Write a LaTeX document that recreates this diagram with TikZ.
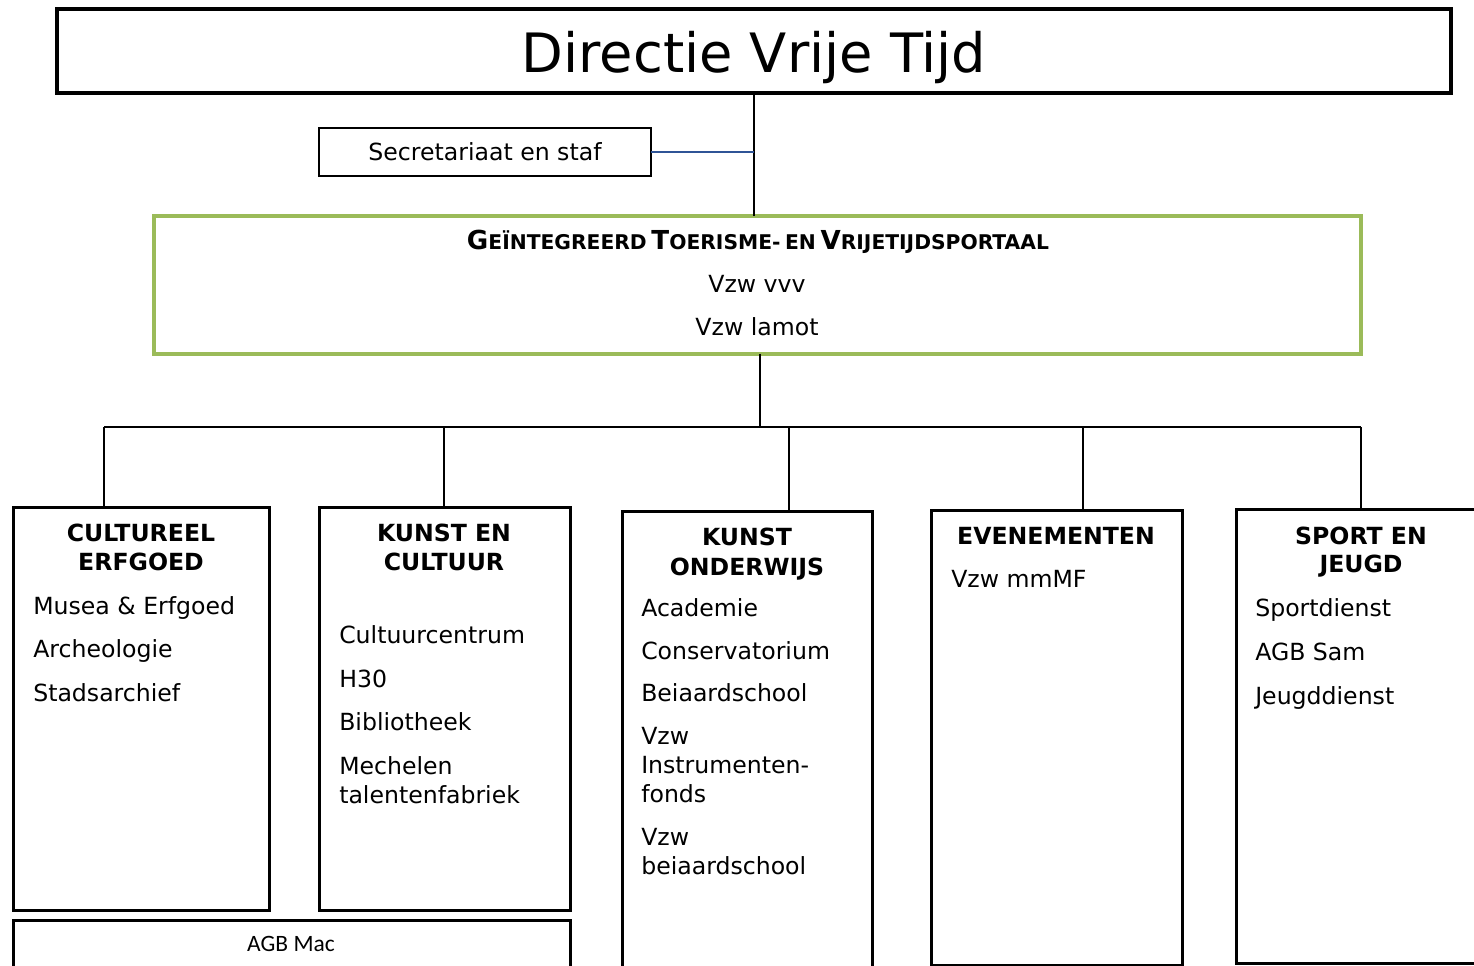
\documentclass[tikz,border=0pt]{standalone}
\usepackage{fontspec}
\setmainfont{DejaVu Sans}
\newfontfamily\calibrifont{Carlito}
\usetikzlibrary{positioning}
\definecolor{portaalgreen}{RGB}{155,187,89}
\definecolor{staflink}{RGB}{47,84,150}
\newcommand{\itemfont}{\fontsize{17.7}{21.75}\selectfont}
\newcommand{\smcap}[2]{{\fontsize{19.6}{23}\selectfont #1}{\fontsize{15.2}{18}\selectfont #2}}
\tikzset{
  dienst/.style={draw, line width=2.25pt, anchor=north west, inner sep=0pt, outer sep=0pt},
  kop/.style={anchor=base, inner sep=0pt, font=\bfseries\itemfont},
  lijn/.style={anchor=base west, inner sep=0pt, font=\itemfont},
  verbinding/.style={line width=1pt},
}
\begin{document}
\begin{tikzpicture}[x=0.75pt,y=0.75pt,yscale=-1,xscale=1]
\clip (0,0) rectangle (1474,966);

%Shape: Rectangle [directie]
\node [dienst, line width=3pt, minimum width=1394*0.75pt, minimum height=84*0.75pt] (dir) at (57,9) {};
% Text Node
\node [anchor=base, inner sep=0pt, font=\fontsize{40.7}{48}\selectfont] (dirtxt) at (754,73) {Directie Vrije Tijd};

%Shape: Rectangle [secretariaat]
\node [dienst, line width=1.1pt, minimum width=332*0.75pt, minimum height=48*0.75pt, font=\itemfont] (staf) at (319,128) {Secretariaat en staf};

%Shape: Rectangle [portaal]
\node [dienst, draw=portaalgreen, line width=3.2pt, minimum width=1207*0.75pt, minimum height=138*0.75pt] (portaal) at (154,216) {};
% Text Node
\node [anchor=base, inner sep=0pt, font=\bfseries] (portaal-t) at (758,250) {\smcap{G}{EÏNTEGREERD} \smcap{T}{OERISME-} \smcap{}{EN} \smcap{V}{RIJETIJDSPORTAAL}};
\node [kop, font=\itemfont] (portaal-1) at (757,293) {Vzw vvv};
\node [kop, font=\itemfont] (portaal-2) at (757,335) {Vzw lamot};

%Shape: Rectangle [diensten]
\node [dienst, minimum width=256*0.75pt, minimum height=403*0.75pt] (cult) at (13,507) {};
\node [dienst, minimum width=251*0.75pt, minimum height=403*0.75pt] (kunst) at (319,507) {};
\node [dienst, minimum width=250*0.75pt, minimum height=520*0.75pt] (onderw) at (622,511) {};
\node [dienst, minimum width=251*0.75pt, minimum height=455*0.75pt] (event) at (931,510) {};
\node [dienst, minimum width=300*0.75pt, minimum height=454*0.75pt] (sport) at (1236,509) {};
\node [dienst, minimum width=557*0.75pt, minimum height=100*0.75pt] (agbmac) at (13,920) {};

% Text Node [titels]
\node [kop] (cult-t1) at (141,541) {CULTUREEL};
\node [kop] (cult-t2) at (141,570) {ERFGOED};
\node [kop] (kunst-t1) at (444,541) {KUNST EN};
\node [kop] (kunst-t2) at (444,570) {CULTUUR};
\node [kop] (onderw-t1) at (747,545) {KUNST};
\node [kop] (onderw-t2) at (747,575) {ONDERWIJS};
\node [kop] (event-t1) at (1056,544) {EVENEMENTEN};
\node [kop] (sport-t1) at (1361,544) {SPORT EN};
\node [kop] (sport-t2) at (1361,572) {JEUGD};

% Text Node [onderdelen]
\foreach \y/\t [count=\i] in {614/Musea \& Erfgoed, 657/Archeologie, 701/Stadsarchief}
  \node [lijn] (cult-\i) at (33,\y) {\t};
\foreach \y/\t [count=\i] in {643/Cultuurcentrum, 687/H30, 730/Bibliotheek, 774/Mechelen, 803/talentenfabriek}
  \node [lijn] (kunst-\i) at (339,\y) {\t};
\foreach \y/\t [count=\i] in {616/Academie, 659/Conservatorium, 701/Beiaardschool, 744/Vzw, 773/Instrumenten-, 802/fonds, 845/Vzw, 874/beiaardschool}
  \node [lijn] (onderw-\i) at (641,\y) {\t};
\node [lijn] (event-1) at (951,587) {Vzw mmMF};
\foreach \y/\t [count=\i] in {616/Sportdienst, 660/AGB Sam, 704/Jeugddienst}
  \node [lijn] (sport-\i) at (1255,\y) {\t};
\node [anchor=base, inner sep=0pt, font=\calibrifont\fontsize{17.6}{21}\selectfont] (agbmac-t) at (291,951) {AGB Mac};

%Straight Lines [verbindingen]
\draw [verbinding] (dir.south) -- (dir.south |- portaal.north);
\draw [verbinding, staflink] (staf.east) -- (staf.east -| dir.south);
\coordinate (bus) at (760,427);
\coordinate (busL) at (104,427);
\coordinate (busR) at (1361,427);
\draw [verbinding] (portaal.south -| bus) -- (bus);
\draw [verbinding] (busL) -- (busR);
\foreach \d/\n in {104/cult, 444/kunst, 789/onderw, 1083/event, 1361/sport} {
  \coordinate (drop-\n) at (\d,427);
  \draw [verbinding] (drop-\n) -- (drop-\n |- \n.north);
}

\end{tikzpicture}
\end{document}
